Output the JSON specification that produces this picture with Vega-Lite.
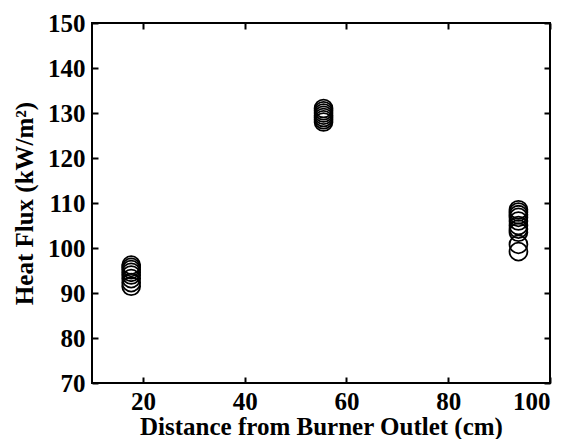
{
  "$schema": "https://vega.github.io/schema/vega-lite/v6.json",
  "autosize": "none",
  "width": 458,
  "height": 360,
  "padding": {"left": 92, "top": 23, "right": 20, "bottom": 56},
  "background": "white",
  "config": {
    "view": {"stroke": "black", "strokeWidth": 2},
    "axis": {
      "grid": false,
      "domain": false,
      "tickColor": "black",
      "tickWidth": 2,
      "tickSize": 6,
      "offset": -6,
      "labelFont": "Liberation Serif",
      "labelFontWeight": "bold",
      "labelFontSize": 25,
      "labelColor": "black",
      "titleFont": "Liberation Serif",
      "titleFontWeight": "bold",
      "titleFontSize": 25,
      "titleColor": "black"
    }
  },
  "data": {
    "values": [
      {"d": 17.7, "q": 96.2},
      {"d": 17.7, "q": 95.7},
      {"d": 17.7, "q": 95.2},
      {"d": 17.7, "q": 94.6},
      {"d": 17.7, "q": 94.0},
      {"d": 17.7, "q": 93.2},
      {"d": 17.7, "q": 92.3},
      {"d": 17.7, "q": 91.5},
      {"d": 55.5, "q": 131.0},
      {"d": 55.5, "q": 130.5},
      {"d": 55.5, "q": 130.0},
      {"d": 55.5, "q": 129.5},
      {"d": 55.5, "q": 129.0},
      {"d": 55.5, "q": 128.5},
      {"d": 55.5, "q": 128.0},
      {"d": 93.8, "q": 108.5},
      {"d": 93.8, "q": 108.0},
      {"d": 93.8, "q": 107.4},
      {"d": 93.8, "q": 106.8},
      {"d": 93.8, "q": 106.0},
      {"d": 93.8, "q": 105.0},
      {"d": 93.8, "q": 104.2},
      {"d": 93.8, "q": 103.5},
      {"d": 93.8, "q": 100.8},
      {"d": 93.8, "q": 99.2}
    ]
  },
  "resolve": {"axis": {"x": "independent", "y": "independent"}},
  "layer": [
    {
      "mark": {"type": "point", "shape": "circle", "filled": false, "stroke": "black", "strokeWidth": 1.8, "size": 320, "opacity": 1},
      "encoding": {
        "x": {"field": "d", "type": "quantitative", "scale": {"domain": [10, 100], "nice": false, "zero": false},
              "axis": {"values": [20, 40, 60, 80, 100], "title": "Distance from Burner Outlet (cm)", "labelPadding": 6, "titlePadding": 0}},
        "y": {"field": "q", "type": "quantitative", "scale": {"domain": [70, 150], "nice": false, "zero": false},
              "axis": {"values": [70, 80, 90, 100, 110, 120, 130, 140, 150], "title": "Heat Flux (kW/m²)", "labelPadding": 7, "titlePadding": 10}}
      }
    },
    {
      "mark": {"type": "point", "opacity": 0},
      "encoding": {
        "x": {"field": "d", "type": "quantitative", "axis": {"orient": "top", "values": [20, 40, 60, 80, 100], "labels": false, "title": null}},
        "y": {"field": "q", "type": "quantitative", "axis": {"orient": "right", "values": [70, 80, 90, 100, 110, 120, 130, 140, 150], "labels": false, "title": null}}
      }
    }
  ]
}
